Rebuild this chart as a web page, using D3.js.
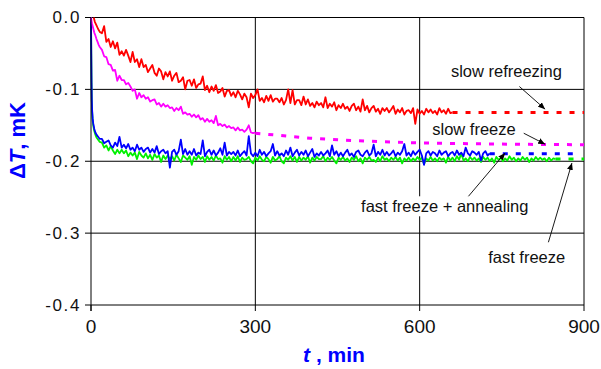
<!DOCTYPE html>
<html><head><meta charset="utf-8">
<script src="https://cdn.jsdelivr.net/npm/d3@7"></script>
<style>body{margin:0;background:#fff}svg{display:block}</style>
</head><body>
<svg id="chart" width="601" height="369"></svg>
<script>
// Axis ticks
const xTicks = [0, 300, 600, 900];
const yTicks = [0, -0.1, -0.2, -0.3, -0.4];
const yTickLabels = ["0.0", "-0.1", "-0.2", "-0.3", "-0.4"];

// Logged records: first minutes listed as [t, ΔT], then one reading every 4 min from t = 20 min
const sampleStep = 4;
const sampleStart = 20;

// slow refreezing (red)
const refreezeHead = [[5,0],[7,-.006],[10,-.011],[13,-.016],[16,-.020]];
const refreezeBody = [
  -.022,-.012,-.034,-.030,-.041,-.033,-.043,-.035,-.052,-.047,
  -.053,-.045,-.053,-.062,-.048,-.062,-.058,-.069,-.058,-.069,
  -.066,-.076,-.071,-.066,-.077,-.081,-.071,-.075,-.086,-.076,
  -.082,-.075,-.088,-.081,-.077,-.090,-.088,-.083,-.100,-.088,
  -.087,-.095,-.086,-.098,-.093,-.092,-.082,-.101,-.095,-.104,
  -.096,-.102,-.094,-.105,-.103,-.098,-.110,-.102,-.101,-.109,
  -.104,-.111,-.102,-.107,-.114,-.106,-.111,-.125,-.106,-.112,
  -.108,-.100,-.116,-.112,-.118,-.109,-.116,-.108,-.117,-.113,
  -.113,-.118,-.112,-.121,-.115,-.100,-.119,-.101,-.121,-.115,
  -.115,-.122,-.110,-.121,-.114,-.123,-.119,-.125,-.117,-.122,
  -.119,-.125,-.111,-.126,-.120,-.124,-.118,-.129,-.122,-.126,
  -.120,-.127,-.124,-.130,-.123,-.120,-.129,-.124,-.131,-.114,
  -.129,-.123,-.132,-.126,-.123,-.131,-.127,-.134,-.126,-.130,
  -.126,-.132,-.128,-.123,-.134,-.128,-.132,-.126,-.135,-.130,
  -.129,-.133,-.126,-.148,-.128,-.134,-.130,-.135,-.127,-.132,
  -.128,-.133,-.130,-.135,-.126,-.132,-.129,-.134,-.127,-.133,
  -.132
];
const refreezeTail = [[660,-.132],[900,-.132]];

// slow freeze (magenta)
const slowHead = [[0,0],[1,-.005],[2,-.009],[4,-.015],[6,-.021],[8,-.025],[10,-.030],[12,-.034],[14,-.038],[16,-.041]];
const slowBody = [
  -.045,-.054,-.055,-.065,-.066,-.074,-.073,-.088,-.081,-.087,
  -.087,-.093,-.091,-.096,-.102,-.100,-.113,-.105,-.111,-.108,
  -.113,-.111,-.117,-.115,-.114,-.121,-.119,-.124,-.120,-.124,
  -.122,-.126,-.125,-.130,-.126,-.129,-.124,-.134,-.132,-.135,
  -.134,-.138,-.135,-.139,-.136,-.142,-.140,-.145,-.141,-.145,
  -.143,-.147,-.137,-.150,-.148,-.151,-.149,-.153,-.151,-.154,
  -.153,-.157,-.153,-.157,-.156,-.159,-.156,-.150,-.160,-.161,
  -.160
];
const slowTail = [[300,-.161],[400,-.168],[500,-.172],[600,-.1745],[700,-.1757],[800,-.1765],[900,-.177]];

// fast freeze + annealing (blue)
const annealHead = [[0,0],[.5,-.05],[1,-.09],[1.5,-.115],[2,-.128],[3,-.140],[4,-.147],[6,-.155],[8,-.160],[10,-.163],[13,-.166],[16,-.169]];
const annealBody = [
  -.169,-.175,-.173,-.171,-.178,-.181,-.174,-.179,-.166,-.181,
  -.177,-.182,-.176,-.184,-.181,-.186,-.177,-.184,-.181,-.187,
  -.183,-.181,-.188,-.183,-.188,-.179,-.190,-.186,-.184,-.189,
  -.186,-.209,-.187,-.184,-.191,-.186,-.170,-.190,-.183,-.191,
  -.186,-.191,-.183,-.192,-.188,-.190,-.171,-.193,-.187,-.184,
  -.191,-.185,-.192,-.188,-.182,-.191,-.174,-.192,-.187,-.190,
  -.187,-.192,-.185,-.193,-.189,-.186,-.192,-.165,-.189,-.193,
  -.188,-.193,-.184,-.191,-.187,-.193,-.189,-.186,-.176,-.192,
  -.186,-.192,-.189,-.193,-.185,-.191,-.181,-.193,-.188,-.184,
  -.192,-.187,-.191,-.185,-.193,-.188,-.183,-.194,-.189,-.192,
  -.187,-.192,-.189,-.185,-.193,-.178,-.191,-.186,-.193,-.188,
  -.193,-.188,-.184,-.192,-.189,-.194,-.187,-.185,-.191,-.193,
  -.188,-.185,-.192,-.189,-.177,-.193,-.187,-.191,-.184,-.192,
  -.187,-.192,-.189,-.185,-.193,-.188,-.191,-.186,-.176,-.192,
  -.188,-.193,-.186,-.191,-.187,-.184,-.192,-.205,-.189,-.186,
  -.192,-.187,-.189,-.193,-.185,-.191,-.188,-.186,-.193,-.189,
  -.187,-.192,-.185,-.191,-.188,-.193,-.181,-.189,-.192,-.186,
  -.188,-.191,-.187,-.199,-.189,-.186,-.192,-.189
];
const annealTail = [[728,-.1895],[882,-.1895]];

// fast freeze (green)
const fastHead = [[0,0],[.5,-.05],[1,-.09],[1.5,-.117],[2,-.131],[3,-.143],[4,-.150],[6,-.158],[8,-.163],[10,-.167],[13,-.170],[16,-.173]];
const fastBody = [
  -.174,-.181,-.178,-.185,-.179,-.185,-.190,-.184,-.189,-.184,
  -.189,-.185,-.193,-.188,-.192,-.188,-.197,-.187,-.192,-.195,
  -.189,-.196,-.191,-.198,-.190,-.195,-.192,-.201,-.192,-.197,
  -.192,-.197,-.193,-.199,-.191,-.196,-.201,-.192,-.195,-.198,
  -.193,-.205,-.194,-.198,-.192,-.197,-.194,-.201,-.193,-.198,
  -.194,-.199,-.192,-.197,-.196,-.202,-.193,-.198,-.194,-.200,
  -.194,-.199,-.193,-.201,-.195,-.198,-.197,-.194,-.200,-.203,
  -.195,-.199,-.193,-.198,-.200,-.194,-.197,-.202,-.194,-.199,
  -.197,-.193,-.200,-.203,-.195,-.198,-.193,-.199,-.194,-.201,
  -.194,-.199,-.195,-.198,-.193,-.202,-.195,-.199,-.194,-.197,
  -.197,-.193,-.200,-.195,-.198,-.194,-.199,-.203,-.195,-.198,
  -.194,-.199,-.196,-.201,-.195,-.198,-.193,-.200,-.196,-.203,
  -.195,-.198,-.194,-.199,-.198,-.201,-.195,-.200,-.193,-.198,
  -.196,-.200,-.195,-.198,-.194,-.199,-.195,-.203,-.196,-.199,
  -.195,-.200,-.196,-.199,-.194,-.198,-.195,-.204,-.196,-.199,
  -.194,-.199,-.196,-.200,-.195,-.198,-.196,-.202,-.194,-.199,
  -.195,-.200,-.193,-.198,-.189,-.199,-.196,-.200,-.194,-.198,
  -.195,-.199,-.196,-.201,-.194,-.198,-.195,-.200,-.196,-.202,
  -.194,-.198,-.195,-.200,-.196,-.199,-.193,-.198,-.195,-.200,
  -.196,-.199,-.194,-.198,-.195,-.201,-.196,-.199,-.194,-.198,
  -.195,-.198,-.196,-.200,-.195,-.199,-.196,-.197
];
const fastTail = [[848,-.197],[900,-.197]];

// Curve labels, placed in data units: text start, arrow tail and arrow tip
const labels = [
  {text: "slow refreezing",         at: [657, -.0823], from: [782, -.096],  to: [829, -.1275]},
  {text: "slow freeze",             at: [623, -.1634], from: [790, -.161],  to: [829, -.1762]},
  {text: "fast freeze + annealing", at: [493, -.271],  from: [686, -.2515], to: [756, -.1885], boxed: true},
  {text: "fast freeze",             at: [725, -.341],  from: [835, -.3127], to: [878, -.2024]}
];

function records(head, body) {
  return head.concat(body.map((v, i) => [sampleStart + i * sampleStep, v]));
}

const series = [
  {name: "fast freeze",             color: "#00f000", pts: records(fastHead, fastBody),         tail: fastTail},
  {name: "fast freeze + annealing", color: "#0000ff", pts: records(annealHead, annealBody),     tail: annealTail},
  {name: "slow freeze",             color: "#ff00ff", pts: records(slowHead, slowBody),         tail: slowTail},
  {name: "slow refreezing",         color: "#ff0000", pts: records(refreezeHead, refreezeBody), tail: refreezeTail}
];

const svg = d3.select("#chart");
const x = d3.scaleLinear().domain([0, 900]).range([91, 584]);
const y = d3.scaleLinear().domain([-0.4, 0]).range([305, 17.5]);
const font = "'Liberation Sans', Arial, Helvetica, sans-serif";

// grid
const grid = svg.append("g").attr("stroke", "#000").attr("stroke-width", 1);
grid.selectAll("line.h").data(yTicks).join("line").attr("class", "h")
  .attr("x1", x(0)).attr("x2", x(900)).attr("y1", d => y(d)).attr("y2", d => y(d));
grid.selectAll("line.v").data(xTicks.slice(1)).join("line").attr("class", "v")
  .attr("x1", d => x(d)).attr("x2", d => x(d)).attr("y1", y(0)).attr("y2", y(-0.4));

// label layer (a white box behind one label interrupts the gridline)
const labelLayer = svg.append("g");

// data
const line = d3.line().x(d => x(d[0])).y(d => y(d[1]));
const dataG = svg.append("g").attr("fill", "none");
dataG.selectAll("path.tail").data(series).join("path").attr("class", "tail")
  .attr("d", d => line(d.tail)).attr("stroke", d => d.color)
  .attr("stroke-width", 3).attr("stroke-dasharray", "5,8");
dataG.selectAll("path.rec").data(series).join("path").attr("class", "rec")
  .attr("d", d => line(d.pts)).attr("stroke", d => d.color)
  .attr("stroke-width", 1.8).attr("stroke-linejoin", "round");

// axes
const axisG = svg.append("g").attr("stroke", "#000").attr("stroke-width", 1);
axisG.append("line").attr("x1", x(0)).attr("x2", x(0)).attr("y1", y(0)).attr("y2", y(-0.4) + 6);
axisG.selectAll("line.yt").data(yTicks).join("line").attr("class", "yt")
  .attr("x1", x(0) - 6).attr("x2", x(0)).attr("y1", d => y(d)).attr("y2", d => y(d));
axisG.selectAll("line.xt").data(xTicks).join("line").attr("class", "xt")
  .attr("x1", d => x(d)).attr("x2", d => x(d)).attr("y1", y(-0.4)).attr("y2", y(-0.4) + 6);

svg.append("g").selectAll("text").data(yTicks).join("text")
  .attr("x", x(0) - 10).attr("y", d => y(d) + 5.5)
  .attr("text-anchor", "end").attr("font-family", font).attr("font-size", 17)
  .attr("letter-spacing", "1.6px").attr("fill", "#111")
  .text((d, i) => yTickLabels[i]);

svg.append("g").selectAll("text").data(xTicks).join("text")
  .attr("x", d => x(d)).attr("y", y(-0.4) + 28)
  .attr("text-anchor", "middle").attr("font-family", font).attr("font-size", 19)
  .attr("fill", "#111").text(d => d);

// axis titles
const xt = svg.append("text").attr("x", 334).attr("y", 361.5).attr("text-anchor", "middle")
  .attr("font-family", font).attr("font-size", 21).attr("font-weight", "bold").attr("fill", "#0000ff");
xt.append("tspan").attr("font-style", "italic").text("t");
xt.append("tspan").text(" , min");

const yt = svg.append("text").attr("transform", "translate(25,140.5) rotate(-90)").attr("text-anchor", "middle")
  .attr("font-family", font).attr("font-size", 22).attr("font-weight", "bold").attr("fill", "#0000ff");
yt.append("tspan").text("Δ");
yt.append("tspan").attr("font-style", "italic").text("T");
yt.append("tspan").text(", mK");

// labels and arrows
svg.append("defs").append("marker").attr("id", "head")
  .attr("markerUnits", "userSpaceOnUse").attr("markerWidth", 8).attr("markerHeight", 6)
  .attr("refX", 7).attr("refY", 3).attr("orient", "auto")
  .append("path").attr("d", "M0,0L7,3L0,6Z").attr("fill", "#000");

labels.forEach(l => {
  const t = labelLayer.append("text").attr("x", x(l.at[0])).attr("y", y(l.at[1]))
    .attr("font-family", font).attr("font-size", 16.5).attr("fill", "#111").text(l.text);
  if (l.boxed) {
    const b = t.node().getBBox();
    labelLayer.insert("rect", "text").attr("x", b.x - 2).attr("y", b.y - 1)
      .attr("width", b.width + 4).attr("height", b.height + 2).attr("fill", "#fff");
  }
  svg.append("line").attr("x1", x(l.from[0])).attr("y1", y(l.from[1]))
    .attr("x2", x(l.to[0])).attr("y2", y(l.to[1]))
    .attr("stroke", "#000").attr("stroke-width", 0.9).attr("marker-end", "url(#head)");
});
// keep the label layer above the gridlines
labelLayer.raise();
</script>
</body></html>
